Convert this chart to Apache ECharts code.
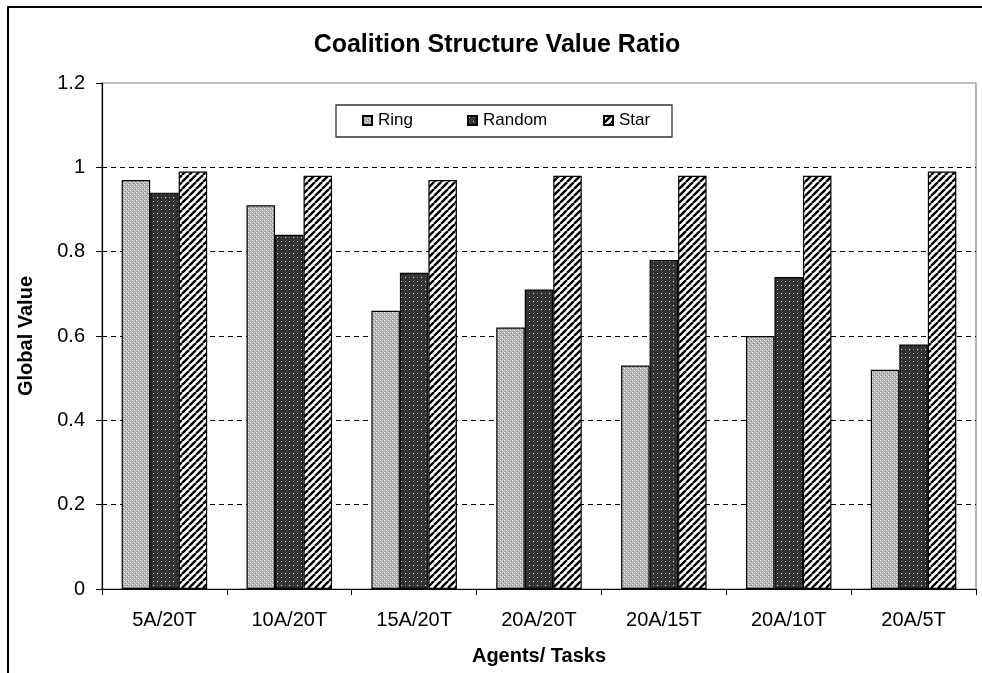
<!DOCTYPE html>
<html>
<head>
<meta charset="utf-8">
<script src="https://cdn.jsdelivr.net/npm/echarts@6/dist/echarts.min.js"></script>
<style>
  html, body { margin: 0; padding: 0; background: #fff; }
  #chart { width: 982px; height: 673px; }
</style>
</head>
<body>
<div id="chart"></div>
<script>
// Data
const categories = ['5A/20T', '10A/20T', '15A/20T', '20A/20T', '20A/15T', '20A/10T', '20A/5T'];
const ringValues = [0.97, 0.91, 0.66, 0.62, 0.53, 0.60, 0.52];
const randomValues = [0.94, 0.84, 0.75, 0.71, 0.78, 0.74, 0.58];
const starValues = [0.99, 0.98, 0.97, 0.98, 0.98, 0.98, 0.99];
const yTicks = [0, 0.2, 0.4, 0.6, 0.8, 1, 1.2];

const FONT = "'Liberation Sans', Arial, sans-serif";

// Fill patterns drawn on small canvases
function makeTile(size, draw) {
  const c = document.createElement('canvas');
  c.width = size; c.height = size;
  const ctx = c.getContext('2d');
  draw(ctx, size);
  return c;
}

// Mottled grey dither for Ring
const ringTile = makeTile(4, (ctx) => {
  const P = { W: '#f4f4f4', G: '#aaaaaa', L: '#cccccc', D: '#8c8c8c' };
  const rows = ['WGLG', 'GLGD', 'LGWG', 'GDGL'];
  rows.forEach((r, y) => {
    for (let x = 0; x < 4; x++) { ctx.fillStyle = P[r[x]]; ctx.fillRect(x, y, 1, 1); }
  });
});
// Dark grey with small light dots for Random
const randomTile = makeTile(8, (ctx, s) => {
  ctx.fillStyle = '#333333'; ctx.fillRect(0, 0, s, s);
  ctx.fillStyle = '#ffffff'; ctx.fillRect(1, 1, 1, 1); ctx.fillRect(5, 5, 1, 1);
  ctx.fillStyle = '#8a8a8a'; ctx.fillRect(5, 1, 1, 1); ctx.fillRect(1, 5, 1, 1);
});
// Black diagonal hatching for Star
const starTile = makeTile(7, (ctx, s) => {
  ctx.fillStyle = '#ffffff'; ctx.fillRect(0, 0, s, s);
  ctx.strokeStyle = '#000000'; ctx.lineWidth = 2.4;
  ctx.beginPath();
  for (let k = -1; k <= 1; k++) {
    ctx.moveTo(k * s, s); ctx.lineTo(k * s + s, 0);
  }
  ctx.stroke();
});

function barSeries(name, data, tile) {
  return {
    name: name,
    type: 'bar',
    data: data,
    barWidth: 28.5,
    barGap: '0%',
    itemStyle: {
      color: { image: tile, repeat: 'repeat' },
      borderColor: '#000',
      borderWidth: 1.2
    },
    emphasis: { disabled: true }
  };
}

function legendAt(name, left) {
  return {
    data: [name],
    left: left,
    top: 112,
    icon: 'rect',
    itemWidth: 9,
    itemHeight: 9,
    itemGap: 0,
    padding: 0,
    textStyle: { fontFamily: FONT, fontSize: 17, color: '#000', padding: [0, 0, 0, 1] },
    selectedMode: false
  };
}

const chart = echarts.init(document.getElementById('chart'), null, { renderer: 'canvas' });
chart.setOption({
  animation: false,
  backgroundColor: '#fff',
  title: {
    text: 'Coalition Structure Value Ratio',
    left: 492,
    textAlign: 'center',
    top: 28,
    textStyle: { fontFamily: FONT, fontSize: 25, fontWeight: 'bold', color: '#000' }
  },
  legend: [legendAt('Ring', 362), legendAt('Random', 467), legendAt('Star', 603)],
  grid: {
    left: 102, top: 83, right: 6, bottom: 84,
    show: true, borderColor: '#808080', borderWidth: 1.2
  },
  xAxis: {
    type: 'category',
    data: categories,
    name: 'Agents/ Tasks',
    nameLocation: 'middle',
    nameGap: 57,
    nameTextStyle: { fontFamily: FONT, fontSize: 20, fontWeight: 'bold', color: '#000' },
    axisLine: { lineStyle: { color: '#000', width: 1.2 } },
    axisTick: { show: true, length: 6, lineStyle: { color: '#000' } },
    axisLabel: { fontFamily: FONT, fontSize: 20, color: '#000', margin: 21 },
    splitLine: { show: false }
  },
  yAxis: {
    type: 'value',
    min: 0, max: 1.2, interval: 0.2,
    name: 'Global Value',
    nameLocation: 'middle',
    nameGap: 66,
    nameTextStyle: { fontFamily: FONT, fontSize: 20, fontWeight: 'bold', color: '#000' },
    axisLine: { show: true, lineStyle: { color: '#000', width: 1.2 } },
    axisTick: { show: true, length: 6, lineStyle: { color: '#000' } },
    axisLabel: {
      fontFamily: FONT, fontSize: 20, color: '#000', margin: 17,
      formatter: v => {
        const t = yTicks.find(y => Math.abs(y - v) < 1e-9);
        return t === undefined ? '' : String(t);
      }
    },
    splitLine: {
      show: true,
      showMinLine: false,
      showMaxLine: false,
      lineStyle: { color: '#000', width: 1, type: [5, 4] }
    }
  },
  series: [
    barSeries('Ring', ringValues, ringTile),
    barSeries('Random', randomValues, randomTile),
    barSeries('Star', starValues, starTile)
  ],
  graphic: [
    {
      type: 'rect', silent: true, z: 100,
      shape: { x: 8, y: 7, width: 1000, height: 700 },
      style: { fill: 'none', stroke: '#000', lineWidth: 2 }
    },
    {
      type: 'rect', silent: true, z: 1,
      shape: { x: 336, y: 105, width: 336, height: 32 },
      style: { fill: '#fff', stroke: '#333', lineWidth: 1.3 }
    }
  ]
});
</script>
</body>
</html>
